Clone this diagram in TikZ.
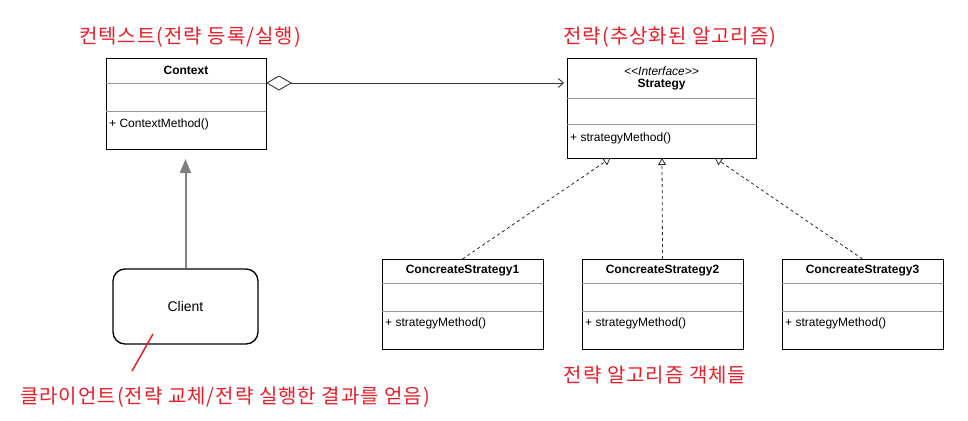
\documentclass[tikz,border=0pt]{standalone}
\usepackage{fontspec}
\setmainfont{Liberation Sans}
\newfontfamily\kr[LetterSpace=5]{Noto Sans CJK KR}
\usetikzlibrary{arrows.meta}
\definecolor{annot}{RGB}{232,30,40}
\definecolor{divgray}{RGB}{150,150,150}
\definecolor{arrgray}{RGB}{128,128,128}
\tikzset{
  umlbox/.style={draw=black, line width=1pt, inner sep=0pt, outer sep=0pt, fill=white},
  divline/.style={draw=divgray, line width=0.8pt},
  titletext/.style={font=\fontsize{12}{14}\selectfont\bfseries, inner sep=0pt},
  stereo/.style={font=\fontsize{12}{14}\selectfont\itshape, inner sep=0pt},
  methtext/.style={font=\fontsize{12}{14}\selectfont, inner sep=0pt, anchor=west},
  clientbox/.style={draw=black, line width=1.3pt, rounded corners=12pt, inner sep=0pt, minimum width=145pt, minimum height=75pt, font=\fontsize{14}{16}\selectfont},
  annotext/.style={text=annot, font=\kr\fontsize{20}{23}\selectfont, inner sep=0pt},
  realize/.style={draw=black!85, line width=0.8pt, dash pattern=on 3pt off 3pt, -{Triangle[open, length=7pt, width=8pt]}},
  aggreg/.style={draw=black!80, line width=0.9pt, {Diamond[open, length=26pt, width=15pt]}-{Straight Barb[length=5pt, width=9pt]}},
  uses/.style={draw=arrgray, line width=2pt, -{Triangle[length=14pt, width=11pt]}},
}
\begin{document}
\begin{tikzpicture}[x=1pt, y=-1pt]
\useasboundingbox (0,0) rectangle (968,420);

% Context
\node[umlbox, minimum width=160pt, minimum height=90pt] (ctx) at (186,104) {};
\node[titletext] (ctxt) at (186,70) {Context};
\draw[divline] ([yshift=-24pt]ctx.north west) -- ([yshift=-24pt]ctx.north east);
\draw[divline] ([yshift=-52pt]ctx.north west) -- ([yshift=-52pt]ctx.north east);
\node[methtext] (ctxm) at ([xshift=3pt, yshift=-65pt]ctx.north west) {+ ContextMethod()};

% Strategy
\node[umlbox, minimum width=189pt, minimum height=99pt] (str) at (661.5,108.5) {};
\node[stereo] (strs) at (661.5,71) {{<}{<}Interface{>}{>}};
\node[titletext] (strt) at (661.5,84.5) {Strategy};
\draw[divline] ([yshift=-39pt]str.north west) -- ([yshift=-39pt]str.north east);
\draw[divline] ([yshift=-65pt]str.north west) -- ([yshift=-65pt]str.north east);
\node[methtext] (strm) at ([xshift=3pt, yshift=-79pt]str.north west) {+ strategyMethod()};

% Concrete strategies
\foreach \n/\cx in {1/462.5, 2/662.5, 3/862.5}{
  \node[umlbox, minimum width=161pt, minimum height=90pt] (cs\n) at (\cx,304) {};
  \node[titletext] (cs\n t) at (\cx,270.5) {ConcreateStrategy\n};
  \draw[divline] ([yshift=-24pt]cs\n.north west) -- ([yshift=-24pt]cs\n.north east);
  \draw[divline] ([yshift=-52pt]cs\n.north west) -- ([yshift=-52pt]cs\n.north east);
  \node[methtext] (cs\n m) at ([xshift=3pt, yshift=-64pt]cs\n.north west) {+ strategyMethod()};
}

% Client
\node[clientbox] (cli) at (185.5,306.5) {Client};

% Connectors
\coordinate (aggs) at ([yshift=-24pt]ctx.north east);
\draw[aggreg, shorten >=3pt] (aggs) -- (aggs -| str.west);
\draw[realize] (cs1.north) -- ([xshift=-51pt]str.south);
\draw[realize] (cs2.north) -- ([xshift=0.5pt]str.south);
\draw[realize] (cs3.north) -- ([xshift=53.5pt]str.south);
\draw[uses, shorten >=10pt] (cli.north) -- (cli.north |- ctx.south);

% Annotations
\node[annotext] (lctx) at (190,37) {컨텍스트(전략 등록/실행)};
\node[annotext] (lstr) at (670,37) {전략(추상화된 알고리즘)};
\node[annotext] (lcs) at (655,375) {전략 알고리즘 객체들};
\node[annotext] (lcli) at (225,397) {클라이언트(전략 교체/전략 실행한 결과를 얻음)};
\coordinate (ra) at (153,334);
\coordinate (rb) at (132,371);
\draw[annot, line width=1.5pt] (ra) -- (rb);
\end{tikzpicture}
\end{document}
